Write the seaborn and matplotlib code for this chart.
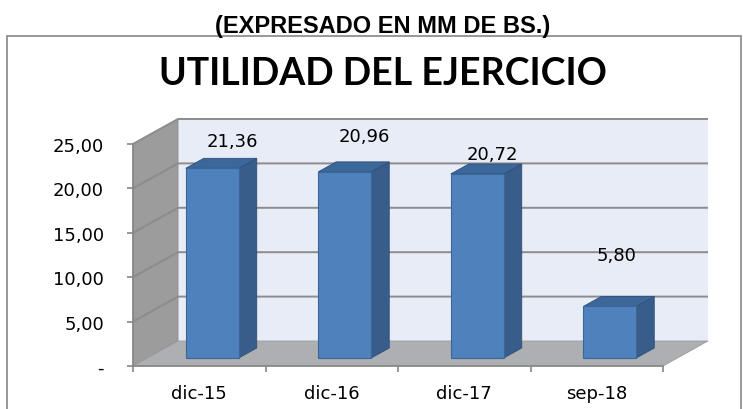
import numpy as np
import pandas as pd
import seaborn as sns
import matplotlib.pyplot as plt
from matplotlib.colors import to_rgb
from matplotlib.patches import Polygon, Rectangle
from matplotlib.transforms import offset_copy

# ------------------------ Data ------------------------
periodos = ['dic-15', 'dic-16', 'dic-17', 'sep-18']
utilidad = [21.36, 20.96, 20.72, 5.80]
y_ticks = [0, 5, 10, 15, 20, 25]
y_tick_labels = ['-', '5,00', '10,00', '15,00', '20,00', '25,00']
titulo = 'UTILIDAD DEL EJERCICIO'
subtitulo = '(EXPRESADO EN MM DE BS.)'

df = pd.DataFrame({'periodo': periodos, 'utilidad': utilidad})

# ------------------------ Styling ------------------------
sns.set_style('white')
plt.rcParams['font.family'] = ['DejaVu Sans']
plt.rcParams['text.color'] = 'black'
plt.rcParams['xtick.color'] = 'black'
plt.rcParams['ytick.color'] = 'black'

c_front = '#4F81BD'
c_side = '#385D8A'
c_top = '#3C679B'
c_back = '#E7ECF6'
c_left = '#9C9C9C'
c_floor = '#ADAFB2'
c_grid = '#8C8C8C'
c_axis = '#868686'

W, H = 743, 410
fig = plt.figure(figsize=(W / 100, H / 100), dpi=100)

# outer frame
fig.patches.append(Rectangle((7 / W, -0.05), (741 - 7) / W, 1.05 - 37 / H,
                             transform=fig.transFigure, fill=False,
                             ec=c_axis, lw=1.2))

ax = fig.add_axes([133 / W, 43 / H, 530 / W, 222 / H])
ax.set_facecolor('none')

sns.barplot(data=df, x='periodo', y='utilidad', color=c_front, saturation=1,
            width=0.4, ax=ax, zorder=5, edgecolor='#3B6697', linewidth=0.8)
ax.set_xlim(-0.5, 3.5)
ax.set_ylim(0, 25)

# pixel -> data scale for the depth of the 3d look
ppx = 530 / 4
ppy = 222 / 25
wall_dx, wall_dy = 45 / ppx, 25 / ppy
bar_dx, bar_dy = 18 / ppx, 10 / ppy

x0, x1 = -0.5, 3.5
# back wall
ax.add_patch(Rectangle((x0 + wall_dx, wall_dy), 4, 25, fc=c_back, ec='none',
                       zorder=0, clip_on=False))
# left wall
ax.add_patch(Polygon([(x0, 0), (x0, 25), (x0 + wall_dx, 25 + wall_dy), (x0 + wall_dx, wall_dy)],
                     closed=True, fc=c_left, ec='#8A8A8A', lw=0.6, zorder=1, clip_on=False))
# floor
ax.add_patch(Polygon([(x0, 0), (x1, 0), (x1 + wall_dx, wall_dy), (x0 + wall_dx, wall_dy)],
                     closed=True, fc=c_floor, ec='#9A9A9A', lw=0.6, zorder=1, clip_on=False))

# gridlines (left wall diagonal + back wall)
for v in y_ticks[1:]:
    ax.plot([x0, x0 + wall_dx, x1 + wall_dx], [v, v + wall_dy, v + wall_dy],
            color=c_grid, lw=1.4, zorder=2, clip_on=False, solid_capstyle='butt')

# 3d bars: push the front faces back, add side and top faces
shift = offset_copy(ax.transData, fig=fig, x=13, y=8, units='dots')
for bar in ax.patches[:]:
    if not isinstance(bar, Rectangle) or tuple(bar.get_facecolor()[:3]) != to_rgb(c_front):
        continue
    bx, bw, bh = bar.get_x(), bar.get_width(), bar.get_height()
    bar.set_transform(shift)
    bar.set_clip_on(False)
    side = Polygon([(bx + bw, 0), (bx + bw + bar_dx, bar_dy), (bx + bw + bar_dx, bh + bar_dy), (bx + bw, bh)],
                   closed=True, fc=c_side, ec='#2F4F78', lw=0.6, transform=shift, zorder=4, clip_on=False)
    top = Polygon([(bx, bh), (bx + bw, bh), (bx + bw + bar_dx, bh + bar_dy), (bx + bar_dx, bh + bar_dy)],
                  closed=True, fc=c_top, ec='#2F4F78', lw=0.6, transform=shift, zorder=4, clip_on=False)
    ax.add_patch(side)
    ax.add_patch(top)

# data labels (Excel places them a bit above and right of the bars)
label_offsets = [(20, 27), (20, 36), (15, 20), (7, 51)]
for i, v in enumerate(utilidad):
    dx, dy = label_offsets[i]
    ax.annotate(f'{v:.2f}'.replace('.', ','), xy=(i, v), xycoords=shift,
                xytext=(dx, dy), textcoords='offset pixels',
                ha='center', va='center', fontsize=13, color='black',
                zorder=6, annotation_clip=False)

# axes
for s in ['top', 'right']:
    ax.spines[s].set_visible(False)
for s in ['left', 'bottom']:
    ax.spines[s].set_color(c_axis)
    ax.spines[s].set_linewidth(1.2)
    ax.spines[s].set_zorder(3)
ax.set_yticks(y_ticks)
ax.set_yticklabels(y_tick_labels)
ax.set_xticks(range(len(periodos)))
ax.set_xticks(np.arange(-0.5, 4, 1), minor=True)
ax.tick_params(axis='y', direction='out', length=4, width=1.2, color=c_axis,
               labelsize=13, labelcolor='black', pad=17, left=True)
ax.tick_params(axis='x', which='major', length=0, labelsize=13, labelcolor='black', pad=13)
ax.tick_params(axis='x', which='minor', direction='out', length=4, width=1.2,
               color=c_axis, bottom=True)
ax.set_xlabel('')
ax.set_ylabel('')

# titles
fig.text(382.5 / W, 1 - 33 / H, subtitulo, ha='center', va='baseline', fontsize=17,
         fontweight='bold', color='black',
         family=['Liberation Sans', 'DejaVu Sans'])
fig.text(382.5 / W, 1 - 85 / H, titulo, ha='center', va='baseline', fontsize=27,
         fontweight='bold', color='black', family=['Lato', 'DejaVu Sans'])

fig.savefig('out.png', dpi=100)
